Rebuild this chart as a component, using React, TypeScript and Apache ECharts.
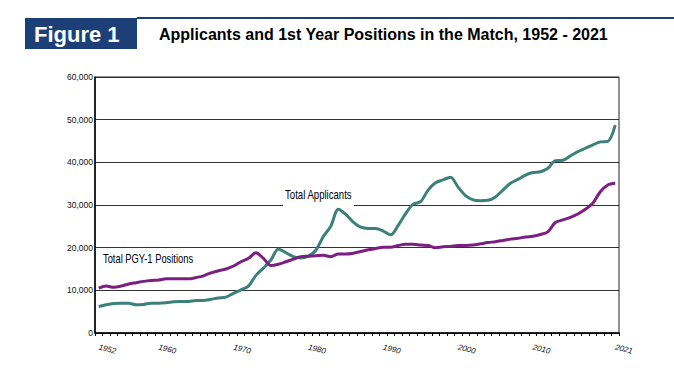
import React, { useEffect, useRef } from "react";
import * as echarts from "echarts";

const years: string[] = [
  "1952","1953","1954","1955","1956","1957","1958","1959",
  "1960","1961","1962","1963","1964","1965","1966","1967","1968","1969",
  "1970","1971","1972","1973","1974","1975","1976","1977","1978","1979",
  "1980","1981","1982","1983","1984","1985","1986","1987","1988","1989",
  "1990","1991","1992","1993","1994","1995","1996","1997","1998","1999",
  "2000","2001","2002","2003","2004","2005","2006","2007","2008","2009",
  "2010","2011","2012","2013","2014","2015","2016","2017","2018","2019",
  "2020","2021",
];

const shownYearLabels: string[] = ["1952", "1960", "1970", "1980", "1990", "2000", "2010", "2021"];

const totalApplicants: number[] = [
  6200, 6600, 6900, 7000, 7000, 6600, 6700, 7000,
  7000, 7100, 7300, 7400, 7400, 7600, 7600, 7900, 8200, 8400,
  9300, 10100, 11000, 13500, 15200, 17100, 19700, 18800, 17900, 17600,
  18000, 19400, 22600, 25000, 29000, 27800, 26000, 24800, 24500, 24500,
  23900, 23000, 25200, 28000, 30200, 30800, 33500, 35200, 35900, 36500,
  34200, 32200, 31200, 31000, 31100, 31900, 33500, 35100, 36000, 37000,
  37600, 37800, 38600, 40400, 40500, 41500, 42500, 43300, 44100, 44800,
  44900, 48700,
];

const totalPositions: number[] = [
  10500, 11000, 10700, 11000, 11500, 11800, 12100, 12300,
  12400, 12700, 12700, 12700, 12700, 13000, 13400, 14100, 14600, 15000,
  15700, 16700, 17500, 18800, 17500, 15800, 16100, 16700, 17300, 17900,
  18000, 18100, 18200, 17900, 18500, 18500, 18700, 19100, 19500, 19800,
  20100, 20100, 20500, 20800, 20800, 20600, 20500, 20000, 20200, 20300,
  20500, 20500, 20600, 20900, 21200, 21400, 21700, 22000, 22200, 22500,
  22700, 23100, 23700, 25900, 26500, 27100, 27900, 29000, 30400, 33100,
  34700, 35100,
];

const FONT = "'Liberation Sans', Arial, Helvetica, sans-serif";

export default function App() {
  const ref = useRef<HTMLDivElement>(null);

  useEffect(() => {
    if (!ref.current) return;
    const chart = echarts.init(ref.current, null, { renderer: "svg" });
    chart.setOption({
      animation: false,
      backgroundColor: "#ffffff",
      textStyle: { fontFamily: FONT },
      grid: {
        left: 95,
        right: 55,
        top: 77,
        bottom: 57,
        show: true,
        borderColor: "#222",
        borderWidth: 1,
        backgroundColor: "transparent",
      },
      xAxis: {
        type: "category",
        data: years,
        boundaryGap: true,
        axisLine: { show: true, lineStyle: { color: "#000", width: 1.5 } },
        axisTick: { show: true, interval: 0, length: 3, lineStyle: { color: "#000" } },
        axisLabel: {
          interval: (_i: number, v: string) => shownYearLabels.includes(v),
          rotate: -14,
          margin: 14,
          fontSize: 8,
          fontStyle: "italic",
          color: "#111",
          fontFamily: FONT,
        },
        splitLine: { show: false },
      },
      yAxis: {
        type: "value",
        min: 0,
        max: 60000,
        interval: 10000,
        axisLine: { show: true, lineStyle: { color: "#000", width: 1.5 } },
        axisTick: { show: false },
        axisLabel: {
          fontSize: 8.5,
          margin: 2,
          color: "#111",
          fontFamily: FONT,
          formatter: (v: number) => v.toLocaleString("en-US"),
        },
        splitLine: { show: true, lineStyle: { color: "#333", width: 1 } },
      },
      series: [
        {
          name: "Total Applicants",
          type: "line",
          data: totalApplicants,
          showSymbol: false,
          smooth: 0.3,
          z: 3,
          lineStyle: { color: "#3b8079", width: 3 },
          itemStyle: { color: "#3b8079" },
        },
        {
          name: "Total PGY-1 Positions",
          type: "line",
          data: totalPositions,
          showSymbol: false,
          smooth: 0.3,
          z: 4,
          lineStyle: { color: "#7b1f80", width: 3 },
          itemStyle: { color: "#7b1f80" },
        },
      ],
      graphic: [
        { type: "rect", z: 10, shape: { x: 25, y: 18, width: 112, height: 31 }, style: { fill: "#1d3f78" } },
        { type: "rect", z: 10, shape: { x: 137, y: 17, width: 537, height: 2 }, style: { fill: "#1d3f78" } },
        {
          type: "text",
          z: 11,
          x: 34,
          y: 34,
          style: {
            text: "Figure 1",
            fill: "#ffffff",
            font: `bold 22px ${FONT}`,
            verticalAlign: "middle",
          },
        },
        {
          type: "text",
          z: 11,
          x: 159,
          y: 34,
          style: {
            text: "Applicants and 1st Year Positions in the Match, 1952 - 2021",
            fill: "#000000",
            font: `bold 16px ${FONT}`,
            verticalAlign: "middle",
          },
        },
        { type: "rect", z: 1, shape: { x: 283, y: 199, width: 71, height: 9 }, style: { fill: "#ffffff" } },
        {
          type: "text",
          z: 12,
          x: 285,
          y: 195,
          scaleX: 0.8,
          style: {
            text: "Total Applicants",
            fill: "#000",
            font: `12px ${FONT}`,
            verticalAlign: "middle",
          },
        },
        {
          type: "text",
          z: 12,
          x: 103,
          y: 259,
          scaleX: 0.78,
          style: {
            text: "Total PGY-1 Positions",
            fill: "#000",
            font: `12px ${FONT}`,
            verticalAlign: "middle",
          },
        },
      ],
    });
    return () => chart.dispose();
  }, []);

  return <div ref={ref} style={{ width: 674, height: 390, position: "absolute", left: 0, top: 0 }} />;
}
